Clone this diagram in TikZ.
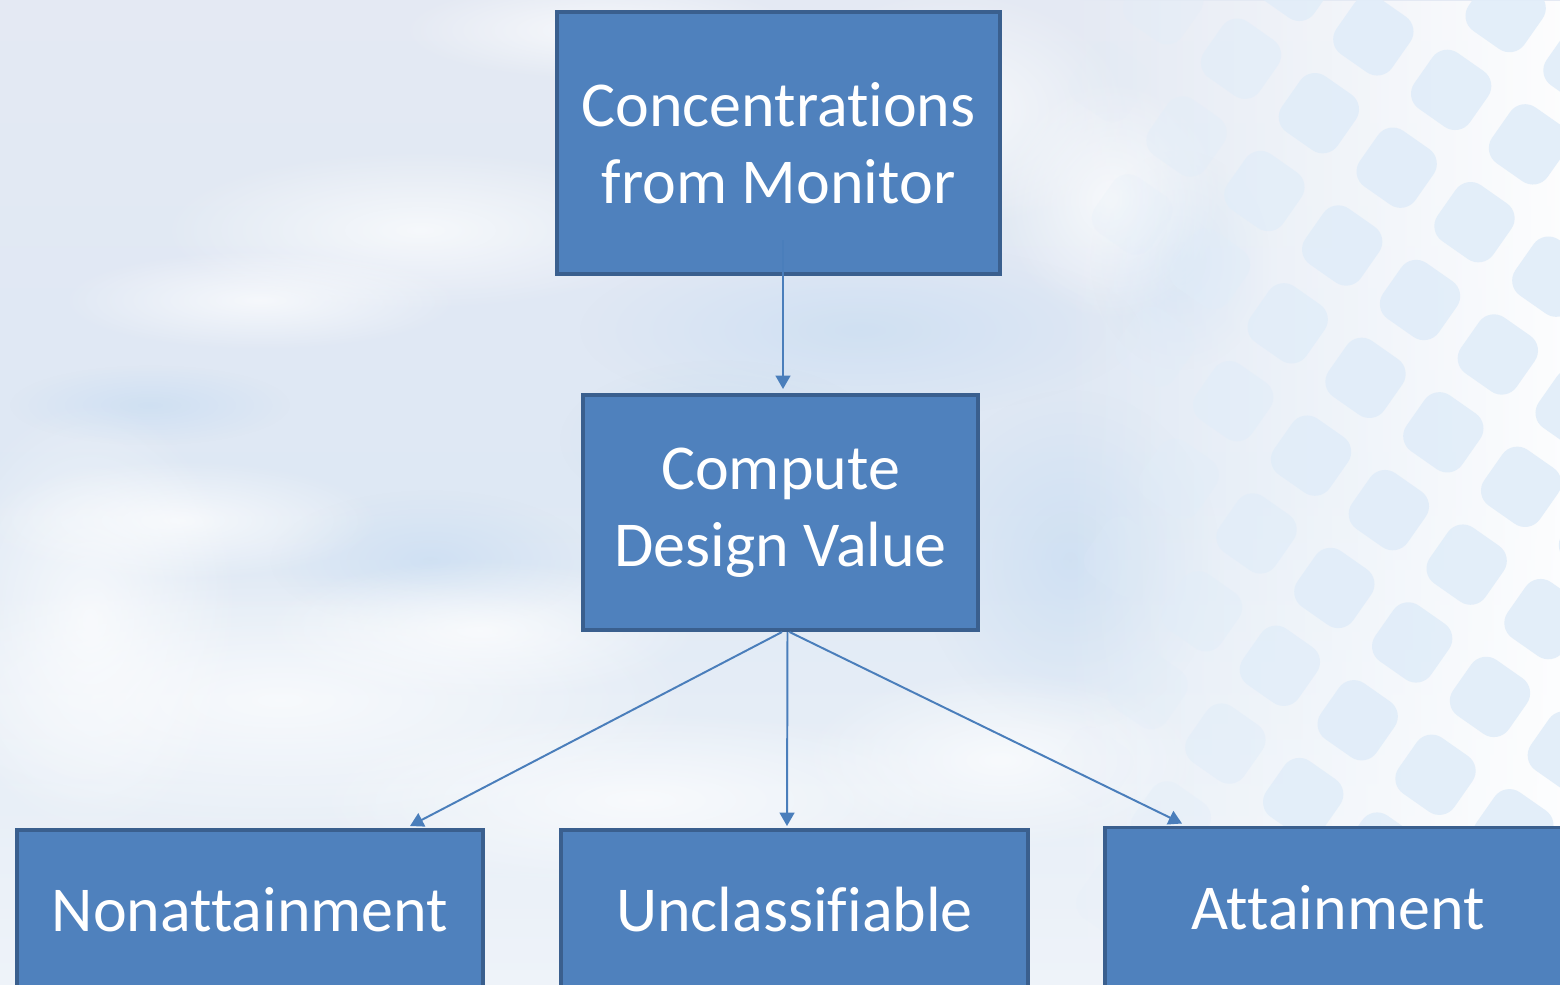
\documentclass[tikz,border=0pt]{standalone}
\usepackage{fontspec}
\setmainfont{Carlito}[Ligatures=NoCommon]
\usetikzlibrary{arrows.meta,calc,fadings}
\definecolor{boxfill}{HTML}{4F81BD}
\definecolor{boxline}{HTML}{3A5F8E}
\definecolor{linkc}{HTML}{4A7EBB}
\definecolor{skytop}{HTML}{E4E9F3}
\definecolor{skymid}{HTML}{DEE8F4}
\definecolor{skybot}{HTML}{EEF3F9}
\definecolor{cloudblue}{HTML}{C9DDF2}
\definecolor{cellc}{HTML}{E1EDF9}

\tikzfading[name=softblob, inner color=transparent!0, outer color=transparent!100]
\tikzfading[name=meshfade, left color=transparent!100, middle color=transparent!20,
  right color=transparent!0]

\begin{document}
\begin{tikzpicture}[x=0.025cm,y=-0.025cm,
  flowbox/.style={draw=boxline, fill=boxfill, line width=2.8pt, text=white,
    align=center, font=\fontsize{45.5}{55}\selectfont, inner sep=0pt},
  link/.style={draw=linkc, line width=1.4pt, -{Triangle[width=10.5pt,length=9.5pt]}},
  cloud/.style={fill=white, opacity=0.7, path fading=softblob},
  haze/.style={fill=cloudblue, opacity=0.7, path fading=softblob}]

% sky backdrop
\useasboundingbox (0,0) rectangle (1560,985);
\shade[top color=skytop, bottom color=skybot, middle color=skymid] (0,0) rectangle (1560,985);

% bluish patches of open sky
\foreach \cx/\cy/\rx/\ry in {
   150/405/140/40, 860/330/280/90, 1070/560/150/170, 430/560/160/70,
   1180/260/90/110, 720/440/160/80}{
  \fill[haze] (\cx,\cy) ellipse ({\rx} and {\ry});
}
% soft clouds
\foreach \cx/\cy/\rx/\ry in {
   420/230/260/80, 260/300/200/50, 280/700/420/130, 640/800/330/90,
   950/110/180/120, 1110/200/110/120, 90/620/150/220, 600/30/200/50,
   480/630/220/70, 1000/760/200/90, 180/520/200/60}{
  \fill[cloud] (\cx,\cy) ellipse ({\rx} and {\ry});
}

% pale mesh on the right: white ground fading in, light cells on top
\fill[white, opacity=0.92, path fading=meshfade] (1060,0) rectangle (1560,985);
\begin{scope}
  \clip (1060,0) rectangle (1560,985);
  \foreach \i in {-8,...,8}{
    \foreach \j in {-8,...,10}{
      \pgfmathsetmacro{\px}{1420+\i*95*cos(35)-\j*95*sin(35)}
      \pgfmathsetmacro{\py}{300+\i*95*sin(35)+\j*95*cos(35)}
      \pgfmathsetmacro{\op}{max(0,min(0.9,(\px-1080)/260))}
      \ifdim\op pt>0.01pt
        \begin{scope}[shift={(\px,\py)}, rotate=-35]
          \fill[cellc, opacity=\op, rounded corners=13pt]
            (-34,-34) rectangle (34,34);
        \end{scope}
      \fi
    }
  }
\end{scope}

% flow boxes
\node[flowbox, minimum width=11.075cm, minimum height=6.55cm]
  (conc) at (778.5,143) {Concentrations\\from Monitor};
\node[flowbox, minimum width=9.875cm, minimum height=5.875cm]
  (dv) at (780.5,512.5)
  {\raisebox{-5pt}{\begin{tabular}{@{}c@{}}Compute\\Design Value\end{tabular}}};
\node[flowbox, minimum width=11.65cm, minimum height=4.0cm]
  (non) at (250,910) {Nonattainment};
\node[flowbox, minimum width=11.65cm, minimum height=4.0cm]
  (unc) at (794.5,910) {Unclassifiable};
\node[flowbox, minimum width=11.65cm, minimum height=4.0cm]
  (att) at (1338,907.5) {Attainment};

% connectors
\draw[link] ($(conc.south)+(4.5,-36)$) -- ($(dv.north)+(2.5,-4)$);
\draw[link] ($(dv.south)+(1.5,0)$) -- ($(non.north)+(160,-2)$);
\draw[link] ($(dv.south)+(7,0)$) -- ($(unc.north)+(-7.5,-2)$);
\draw[link] ($(dv.south)+(9,0)$) -- ($(att.north)+(-156,-2)$);
\end{tikzpicture}
\end{document}
